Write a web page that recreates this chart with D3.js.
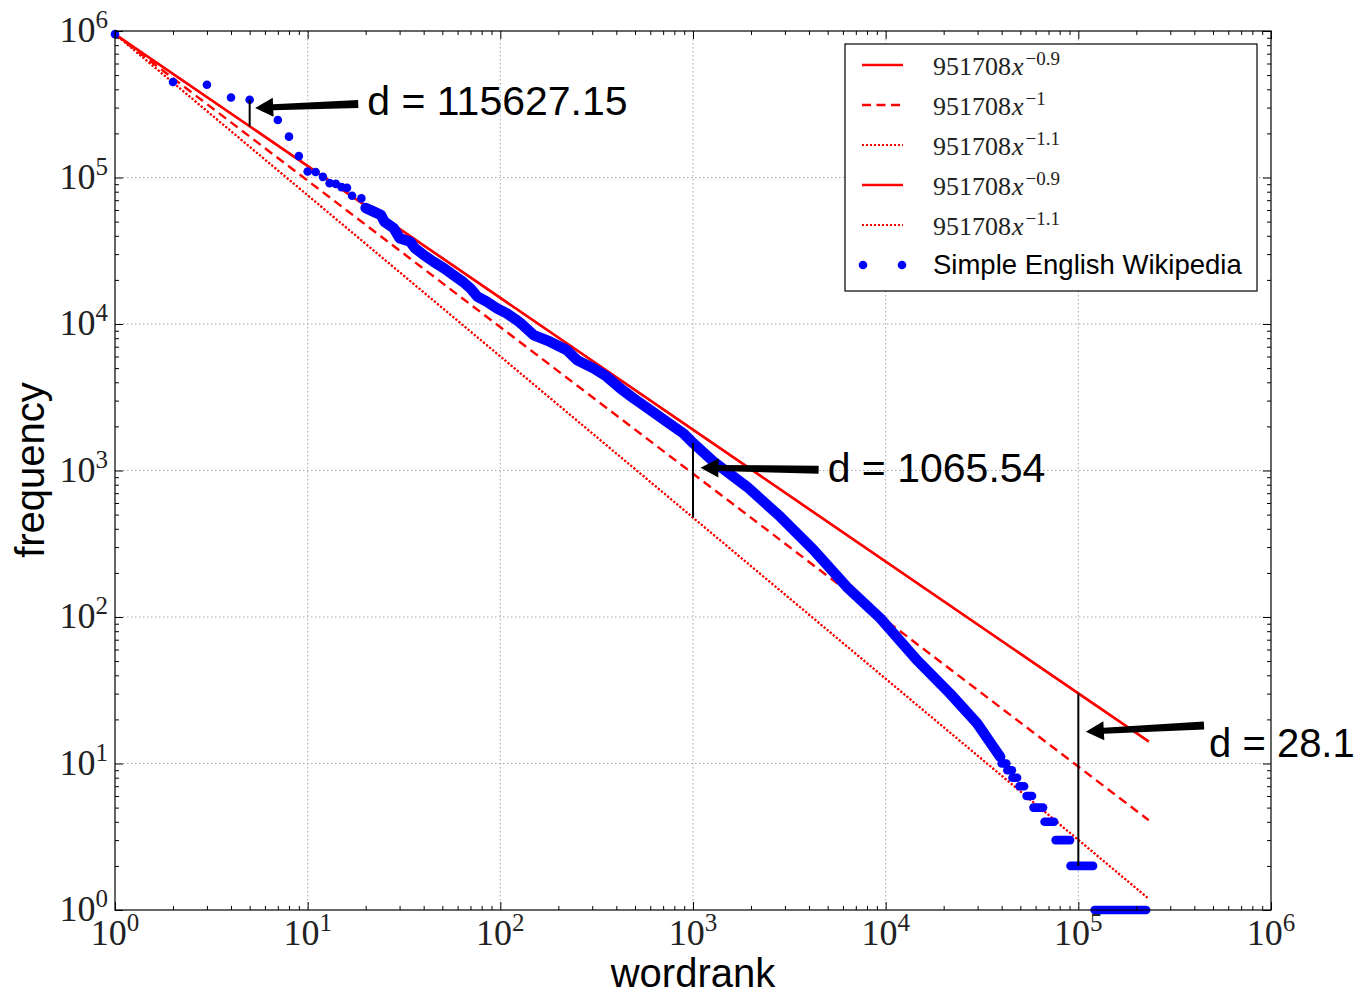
<!DOCTYPE html>
<html>
<head>
<meta charset="utf-8">
<script src="https://cdn.jsdelivr.net/npm/d3@7"></script>
<style>
  body { margin: 0; background: #fff; }
  svg { display: block; }
</style>
</head>
<body>
<div id="chart"></div>
<script>
// word frequency vs rank, Simple English Wikipedia
var W = 1361, H = 995;

// fitted power laws 951708 * x^-k
var fitCoef = 951708;
var fitExps = [0.9, 1, 1.1, 0.9, 1.1];
var fitStyles = ["solid", "dashed", "dotted", "solid", "dotted"];
var fitEnd = 232000;

// single words at the head of the ranking
var headRanks = [1, 2, 3, 4, 5, 6, 7, 8, 9, 10, 11, 12, 13, 14, 15, 16];
var headFreqs = [951708, 449000, 430000, 352000, 339300, 300000, 247000, 190000,
                 140000, 110000, 109000, 101000, 91500, 90500, 86000, 85000];

// the dense middle part (read along the band)
var bodyRanks = [17, 19, 20, 22, 24, 25, 28, 30, 34, 36, 40, 45, 51, 57, 64, 70, 76, 85,
                 96, 108, 122, 130, 149, 181, 221, 250, 305, 357, 419, 491, 600, 731,
                 893, 1000, 1278, 1905, 2837, 4227, 6297, 9377, 14500, 21600, 29800, 39300];
var bodyFreqs = [75000, 72000, 62000, 58500, 55500, 50000, 45000, 38500, 36500, 33000,
                 29600, 26600, 24000, 21600, 19400, 17500, 15400, 14200, 12800, 11800,
                 10600, 9900, 8400, 7570, 6640, 5670, 4980, 4370, 3640, 3110, 2590, 2150,
                 1790, 1542.5, 1150, 775, 484, 287, 160, 98, 51, 30, 18.8, 11.1];

// tail: runs of ranks sharing the same small frequency
var stepFreqs = [10, 9, 8, 7, 6, 5, 4, 3, 2, 1];
var stepStart = [40000, 42800, 45500, 49500, 53900, 58500, 66800, 76200, 91100, 121500];
var stepEnd   = [42300, 45200, 48100, 52300, 57500, 65600, 74800, 90600, 119300, 224900];

// distance annotations
var annRanks = [5, 1000, 100000];
var annFreqs = [339300, 1542.5, 2];
var annFitExp = [0.9, 1.1, 0.9];
var annLabels = ["d = 115627.15", "d = 1065.54", "d = 28.1"];
var annTipRank = [5.34, 1094, 109400];
var annTipFreq = [298000, 1045, 16.5];
var annTailRank = [18.3, 4487, 449000];
var annTailFreq = [318000, 1012, 18.2];
var annTextRank = [20.4, 5000, 477000];
var annTextFreq = [333000, 1045, 13.9];

var tickExps = [0, 1, 2, 3, 4, 5, 6];

var svg = d3.select("#chart").append("svg")
    .attr("width", W)
    .attr("height", H);

var x = d3.scaleLog().domain([1, 1e6]).range([115, 1271]);
var y = d3.scaleLog().domain([1, 1e6]).range([910, 31]);

var serif = "'Liberation Serif', 'DejaVu Serif', serif";
var sans = "'Liberation Sans', Arial, sans-serif";

var isMajor = function(d) { return Math.abs(Math.log10(d) - Math.round(Math.log10(d))) < 1e-9; };
var allTicks = x.ticks();
var majorTicks = allTicks.filter(isMajor);
var minorTicks = allTicks.filter(function(d) { return !isMajor(d); });

// grid
var grid = svg.append("g")
    .attr("stroke", "#a8a8a8")
    .attr("stroke-width", 1)
    .attr("stroke-dasharray", "1.5,2.5");
grid.selectAll(".gx").data(majorTicks.slice(1, -1)).enter().append("line")
    .attr("x1", function(d) { return x(d); }).attr("x2", function(d) { return x(d); })
    .attr("y1", y(1e6)).attr("y2", y(1));
grid.selectAll(".gy").data(majorTicks.slice(1, -1)).enter().append("line")
    .attr("y1", function(d) { return y(d); }).attr("y2", function(d) { return y(d); })
    .attr("x1", x(1)).attr("x2", x(1e6));

// fitted lines
var dashFor = { solid: null, dashed: "9,5.5", dotted: "2,2" };
var fitLine = d3.line()
    .x(function(d) { return x(d[0]); })
    .y(function(d) { return y(d[1]); });

fitExps.forEach(function(k, i) {
  svg.append("path")
      .datum([[1, fitCoef], [fitEnd, fitCoef * Math.pow(fitEnd, -k)]])
      .attr("d", fitLine)
      .attr("fill", "none")
      .attr("stroke", "#ff0000")
      .attr("stroke-width", fitStyles[i] == "dotted" ? 2 : 2.4)
      .attr("stroke-dasharray", dashFor[fitStyles[i]]);
});

// data
var blue = "#0000ff";
var dotR = 4.3;
var bodyPts = bodyRanks.map(function(r, i) { return [r, bodyFreqs[i]]; });
svg.append("path")
    .datum(bodyPts.slice(2))
    .attr("d", fitLine)
    .attr("fill", "none")
    .attr("stroke", blue)
    .attr("stroke-width", 10.5)
    .attr("stroke-linecap", "round")
    .attr("stroke-linejoin", "round");

var headPts = headRanks.map(function(r, i) { return [r, headFreqs[i]]; });
svg.append("g").selectAll("circle")
    .data(headPts.concat(bodyPts))
    .enter().append("circle")
    .attr("cx", function(d) { return x(d[0]); })
    .attr("cy", function(d) { return y(d[1]); })
    .attr("r", dotR)
    .attr("fill", blue);

svg.append("g").selectAll("line")
    .data(stepFreqs)
    .enter().append("line")
    .attr("x1", function(d, i) { return x(stepStart[i]); })
    .attr("x2", function(d, i) { return x(stepEnd[i]); })
    .attr("y1", function(d) { return y(d); })
    .attr("y2", function(d) { return y(d); })
    .attr("stroke", blue)
    .attr("stroke-width", dotR * 2)
    .attr("stroke-linecap", "round");

// vertical distance segments
svg.append("g").selectAll("line")
    .data(annRanks)
    .enter().append("line")
    .attr("x1", function(d) { return x(d); })
    .attr("x2", function(d) { return x(d); })
    .attr("y1", function(d, i) { return y(annFreqs[i]); })
    .attr("y2", function(d, i) { return y(fitCoef * Math.pow(d, -annFitExp[i])); })
    .attr("stroke", "#000")
    .attr("stroke-width", 2);

// arrows
function arrowPoly(tx, ty, px, py) {
  var dx = px - tx, dy = py - ty, L = Math.sqrt(dx * dx + dy * dy);
  var ux = dx / L, uy = dy / L, nx = -uy, ny = ux;
  var hl = 18, hw = 9.5, st = 4, sh = 3;
  var bx = px - ux * hl, by = py - uy * hl;
  return [
    [tx + nx * st, ty + ny * st], [bx + nx * sh, by + ny * sh], [bx + nx * hw, by + ny * hw],
    [px, py], [bx - nx * hw, by - ny * hw], [bx - nx * sh, by - ny * sh], [tx - nx * st, ty - ny * st]
  ].map(function(p) { return p.join(","); }).join(" ");
}
svg.append("g").selectAll("polygon")
    .data(annRanks)
    .enter().append("polygon")
    .attr("points", function(d, i) {
      return arrowPoly(x(annTailRank[i]), y(annTailFreq[i]), x(annTipRank[i]), y(annTipFreq[i]));
    })
    .attr("fill", "#000");

svg.append("g").selectAll("text")
    .data(annLabels)
    .enter().append("text")
    .attr("x", function(d, i) { return x(annTextRank[i]); })
    .attr("y", function(d, i) { return y(annTextFreq[i]) + 14; })
    .attr("font-family", sans)
    .attr("font-size", function(d, i) { return i == 2 ? 40 : 41; })
    .attr("fill", "#000")
    .text(function(d) { return d; });

// axes: inward ticks on all four sides
function addTicks(axis, tx, ty) {
  var g = svg.append("g").attr("transform", "translate(" + tx + "," + ty + ")");
  g.call(axis.tickValues(majorTicks).tickSize(-8).tickFormat(""));
  g.append("g").call(axis.tickValues(minorTicks).tickSize(-4).tickFormat(""));
  svg.selectAll(".domain").remove();
  g.selectAll("line").attr("stroke", "#000").attr("stroke-width", 1);
}
addTicks(d3.axisBottom(x), 0, 910);
addTicks(d3.axisTop(x), 0, 31);
addTicks(d3.axisLeft(y), 115, 0);
addTicks(d3.axisRight(y), 1271, 0);

svg.append("rect")
    .attr("x", 115).attr("y", 31)
    .attr("width", 1271 - 115).attr("height", 910 - 31)
    .attr("fill", "none")
    .attr("stroke", "#000")
    .attr("stroke-width", 1.2);

// tick labels 10^k
var xl = svg.append("g").selectAll("text")
    .data(tickExps)
    .enter().append("text")
    .attr("x", function(d) { return x(Math.pow(10, d)); })
    .attr("y", 945)
    .attr("text-anchor", "middle")
    .attr("font-family", serif)
    .attr("font-size", 36)
    .attr("fill", "#222")
    .text("10");
xl.append("tspan").attr("dy", -14).attr("font-size", 25).text(function(d) { return d; });

var yl = svg.append("g").selectAll("text")
    .data(tickExps)
    .enter().append("text")
    .attr("x", 108)
    .attr("y", function(d) { return y(Math.pow(10, d)) + 11; })
    .attr("text-anchor", "end")
    .attr("font-family", serif)
    .attr("font-size", 36)
    .attr("fill", "#222")
    .text("10");
yl.append("tspan").attr("dy", -14).attr("font-size", 25).text(function(d) { return d; });

// axis titles
svg.append("text")
    .attr("x", 693).attr("y", 987)
    .attr("text-anchor", "middle")
    .attr("font-family", sans)
    .attr("font-size", 40)
    .text("wordrank");

svg.append("text")
    .attr("transform", "translate(44,470) rotate(-90)")
    .attr("text-anchor", "middle")
    .attr("font-family", sans)
    .attr("font-size", 40)
    .text("frequency");

// legend
var lg = svg.append("g").attr("transform", "translate(845,44)");
lg.append("rect")
    .attr("width", 412).attr("height", 247)
    .attr("fill", "#fff")
    .attr("stroke", "#000")
    .attr("stroke-width", 1.2);

fitExps.forEach(function(k, i) {
  var cy = 21 + i * 40;
  lg.append("line")
      .attr("x1", 17).attr("x2", 58)
      .attr("y1", cy).attr("y2", cy)
      .attr("stroke", "#ff0000")
      .attr("stroke-width", fitStyles[i] == "dotted" ? 2 : 2.4)
      .attr("stroke-dasharray", dashFor[fitStyles[i]]);
  var t = lg.append("text")
      .attr("x", 88).attr("y", cy + 10)
      .attr("font-family", serif)
      .attr("font-size", 26)
      .attr("fill", "#222");
  t.append("tspan").text(fitCoef);
  t.append("tspan").attr("font-style", "italic").attr("dx", 1).text("x");
  t.append("tspan").attr("dy", -10).attr("dx", 2).attr("font-size", 19).text("\u2212" + k);
});

var dotY = 21 + 5 * 40;
lg.selectAll(".ld").data([18, 57]).enter().append("circle")
    .attr("cx", function(d) { return d; })
    .attr("cy", dotY)
    .attr("r", dotR)
    .attr("fill", blue);
lg.append("text")
    .attr("x", 88).attr("y", dotY + 9)
    .attr("font-family", sans)
    .attr("font-size", 27.5)
    .text("Simple English Wikipedia");
</script>
</body>
</html>
